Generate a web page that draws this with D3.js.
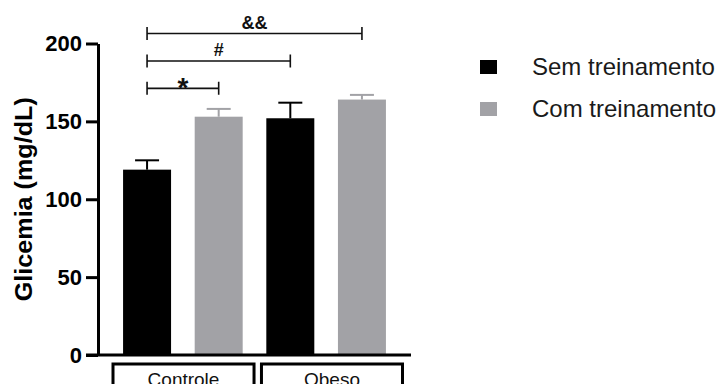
<!DOCTYPE html>
<html>
<head>
<meta charset="utf-8">
<script src="https://cdn.jsdelivr.net/npm/d3@7"></script>
<style>
  body { margin: 0; background: #fff; }
  svg { display: block; font-family: "Liberation Sans", Arial, sans-serif; }
</style>
</head>
<body>
<div id="chart"></div>
<script>
// Data
var groups = ["Controle", "Obeso"];
var series = ["Sem treinamento", "Com treinamento"];
var means = [[119, 153], [152, 164]];   // means[group][series]
var errors = [[6, 5], [10, 3]];
var yTicks = [0, 50, 100, 150, 200];
var comparisons = [
  {from: 0, to: 1, label: "*"},
  {from: 0, to: 2, label: "#"},
  {from: 0, to: 3, label: "&&"}
];

var colors = ["#000000", "#a2a2a6"];
var width = 724, height = 384;

// flat list of bars: group x series
var bars = [];
groups.forEach(function(g, gi) {
  series.forEach(function(s, si) {
    bars.push({key: g + "|" + s, group: g, si: si, mean: means[gi][si], err: errors[gi][si]});
  });
});

var svg = d3.select("#chart").append("svg")
  .attr("width", width)
  .attr("height", height);

//Scales
var x = d3.scaleBand()
  .domain(bars.map(function(d) { return d.key; }))
  .range([98, 411])
  .paddingInner(0.33)
  .paddingOuter(0.35);

var xg = d3.scaleBand()
  .domain(groups)
  .range([113, 402.5])
  .paddingInner(0.05);

var y = d3.scaleLinear().domain([0, 200]).range([355, 43.5]);

//Bars
svg.selectAll(".bar")
  .data(bars)
  .enter().append("rect")
  .attr("class", "bar")
  .attr("x", function(d) { return x(d.key); })
  .attr("y", function(d) { return y(d.mean); })
  .attr("width", x.bandwidth())
  .attr("height", function(d) { return y(0) - y(d.mean); })
  .attr("fill", function(d) { return colors[d.si]; });

//Error bars (upper only)
var eb = svg.selectAll(".err")
  .data(bars)
  .enter().append("g")
  .attr("class", "err")
  .attr("stroke", function(d) { return colors[d.si]; })
  .attr("stroke-width", 2);

eb.append("line")
  .attr("x1", function(d) { return x(d.key) + x.bandwidth() / 2; })
  .attr("x2", function(d) { return x(d.key) + x.bandwidth() / 2; })
  .attr("y1", function(d) { return y(d.mean); })
  .attr("y2", function(d) { return y(d.mean + d.err); });

eb.append("line")
  .attr("x1", function(d) { return x(d.key) + x.bandwidth() / 4; })
  .attr("x2", function(d) { return x(d.key) + x.bandwidth() * 3 / 4; })
  .attr("y1", function(d) { return y(d.mean + d.err); })
  .attr("y2", function(d) { return y(d.mean + d.err); });

//Y axis
var yAxis = d3.axisLeft(y)
  .tickValues(yTicks)
  .tickSize(12)
  .tickSizeOuter(0)
  .tickPadding(4);

var gy = svg.append("g")
  .attr("transform", "translate(98,0)")
  .call(yAxis);

gy.selectAll("path, line").attr("stroke", "#000").attr("stroke-width", 3);
gy.selectAll("text")
  .attr("fill", "#000")
  .style("font-size", "22px")
  .style("font-weight", "bold");

//X axis line
svg.append("line")
  .attr("x1", 86).attr("x2", x.range()[1])
  .attr("y1", y(0)).attr("y2", y(0))
  .attr("stroke", "#000").attr("stroke-width", 3);

//Y label
svg.append("text")
  .attr("transform", "translate(23," + (y(0) + y(200)) / 2 + ") rotate(-90)")
  .attr("text-anchor", "middle")
  .attr("dominant-baseline", "central")
  .attr("textLength", 204)
  .attr("lengthAdjust", "spacingAndGlyphs")
  .style("font-size", "24px")
  .style("font-weight", "bold")
  .text("Glicemia (mg/dL)");

//Group brackets under the axis
var gb = svg.selectAll(".grp")
  .data(groups)
  .enter().append("g")
  .attr("class", "grp");

gb.append("path")
  .attr("d", function(g) {
    var x0 = xg(g), x1 = xg(g) + xg.bandwidth();
    return "M" + x0 + ",392V364H" + x1 + "V392";
  })
  .attr("fill", "none")
  .attr("stroke", "#000")
  .attr("stroke-width", 3);

gb.append("text")
  .attr("x", function(g) { return xg(g) + xg.bandwidth() / 2; })
  .attr("y", 386)
  .attr("text-anchor", "middle")
  .style("font-size", "19px")
  .attr("fill", "#111")
  .text(function(g) { return g; });

//Significance brackets
function cx(i) { return x(bars[i].key) + x.bandwidth() / 2; }

var sig = svg.selectAll(".sig")
  .data(comparisons)
  .enter().append("g")
  .attr("class", "sig");

sig.append("path")
  .attr("d", function(d, i) {
    var ly = y(171.2 + i * 17.6);
    return "M" + cx(d.from) + "," + (ly - 6.5) + "V" + (ly + 6.5) +
           "M" + cx(d.from) + "," + ly + "H" + cx(d.to) +
           "M" + cx(d.to) + "," + (ly - 6.5) + "V" + (ly + 6.5);
  })
  .attr("fill", "none")
  .attr("stroke", "#111")
  .attr("stroke-width", 1.6);

sig.append("text")
  .attr("x", function(d) { return (cx(d.from) + cx(d.to)) / 2; })
  .attr("y", function(d, i) { return y(171.2 + i * 17.6) + (d.label == "*" ? 9 : -5); })
  .attr("text-anchor", "middle")
  .style("font-size", function(d) { return d.label == "*" ? "28px" : "18px"; })
  .style("font-weight", "bold")
  .attr("fill", "#111")
  .text(function(d) { return d.label; });

//Legend
var lg = svg.selectAll(".leg")
  .data(series)
  .enter().append("g")
  .attr("class", "leg")
  .attr("transform", function(d, i) { return "translate(480," + (60 + i * 42) + ")"; });

lg.append("rect")
  .attr("width", 17)
  .attr("height", 14)
  .attr("fill", function(d, i) { return colors[i]; });

lg.append("text")
  .attr("x", 52)
  .attr("y", 15)
  .style("font-size", "24px")
  .attr("fill", "#1a1a1a")
  .text(function(d) { return d; });
</script>
</body>
</html>
